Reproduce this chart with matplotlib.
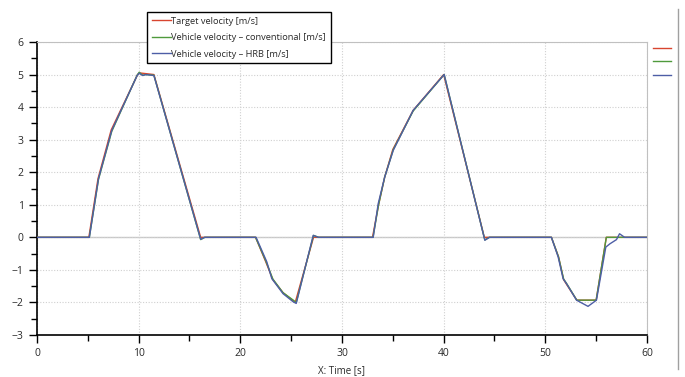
import numpy as np
import matplotlib
matplotlib.use("Agg")
import matplotlib.pyplot as plt
from matplotlib.lines import Line2D
from matplotlib.ticker import MultipleLocator

plt.rcParams['font.family'] = ['Open Sans', 'DejaVu Sans']

# target velocity profile
t_tgt = [0, 5.1, 6.0, 7.3, 9.9, 10.1, 11.5, 16.1, 21.5, 22.5, 23.2, 24.2, 25.4,
         27.2, 33.0, 33.6, 34.2, 35.0, 37.0, 40.0, 44.0, 50.6, 51.3, 51.8, 52.1,
         53.1, 55.0, 56.0, 60]
v_tgt = [0, 0, 1.8, 3.3, 5.0, 5.05, 5.0, 0, 0, -0.75, -1.3, -1.7, -2.0,
         0, 0, 1.0, 1.85, 2.7, 3.9, 5.0, 0, 0, -0.6, -1.3, -1.45,
         -1.93, -1.93, 0, 0]

# vehicle velocity - conventional
t_conv = [0, 5.15, 6.05, 7.35, 9.85, 10.05, 10.4, 10.7, 11.5, 16.1, 16.5, 21.5,
          22.5, 23.2, 24.2, 25.3, 25.5, 27.2, 27.7, 33.05, 33.6, 34.2, 35.05,
          37.0, 40.05, 44.05, 44.5, 50.6, 51.3, 51.8, 52.1, 53.1, 55.0, 56.0, 60]
v_conv = [0, 0, 1.78, 3.25, 4.98, 5.07, 4.98, 5.0, 4.98, -0.07, 0, 0,
          -0.72, -1.28, -1.7, -1.95, -2.0, 0.06, 0, 0, 1.0, 1.85, 2.7,
          3.88, 5.0, -0.08, 0, 0, -0.6, -1.28, -1.42, -1.93, -1.93, 0, 0]

# vehicle velocity - HRB
t_hrb = [0, 5.15, 6.05, 7.35, 9.85, 10.05, 10.4, 10.7, 11.5, 16.1, 16.5, 21.55,
         22.6, 23.1, 24.2, 25.2, 25.5, 27.17, 27.7, 33.07, 33.56, 34.2, 35.04,
         37.0, 40.05, 44.05, 44.5, 50.6, 51.26, 51.75, 52.08, 53.07, 54.2, 55.03,
         55.95, 56.35, 57.0, 57.3, 57.8, 60]
v_hrb = [0, 0, 1.8, 3.28, 4.97, 5.04, 4.97, 5.0, 4.97, -0.06, 0, 0,
         -0.75, -1.27, -1.73, -1.98, -2.03, 0.06, 0, 0, 1.03, 1.85, 2.67,
         3.9, 5.0, -0.09, 0, 0, -0.6, -1.27, -1.42, -1.93, -2.12, -1.93,
         -0.3, -0.2, -0.07, 0.11, 0, 0]

labels = ["Target velocity [m/s]",
          "Vehicle velocity \u2013 conventional [m/s]",
          "Vehicle velocity \u2013 HRB [m/s]"]
colors = ["#d8452f", "#4f9a3c", "#4d5ea6"]

fig = plt.figure(figsize=(6.85, 3.77), dpi=100)
ax = fig.add_axes([0.054, 0.1114, 0.8905, 0.7772])

ax.axhline(0, color="#c8c8c8", lw=1, zorder=1)
l1, = ax.plot(t_tgt, v_tgt, color=colors[0], lw=1, zorder=3)
l2, = ax.plot(t_conv, v_conv, color=colors[1], lw=1, zorder=4)
l3, = ax.plot(t_hrb, v_hrb, color=colors[2], lw=1, zorder=5)

ax.set_xlim(0, 60)
ax.set_ylim(-3, 6)
ax.xaxis.set_major_locator(MultipleLocator(10))
ax.xaxis.set_minor_locator(MultipleLocator(5))
ax.yaxis.set_major_locator(MultipleLocator(1))
ax.yaxis.set_minor_locator(MultipleLocator(0.5))
ax.grid(True, which='major', color="#d0d0d0", linestyle=(0, (1, 1.5)), lw=0.8)
ax.tick_params(which='major', length=6, width=1, labelsize=7.5, color='black', labelcolor='#2a2a2a')
ax.tick_params(which='minor', length=4, width=1, color='black')
for s in ['top', 'right']:
    ax.spines[s].set_color('#c0c0c0')
for s in ['left', 'bottom']:
    ax.spines[s].set_color('black')
    ax.spines[s].set_linewidth(1.2)
ax.set_xlabel("X: Time [s]", fontsize=7, color='#2a2a2a', labelpad=4)

leg = fig.legend([l1, l2, l3], labels, loc='upper left', bbox_to_anchor=(0.215, 0.968),
                 fontsize=6.7, handlelength=2.0, handletextpad=0.1, borderpad=0.5,
                 labelspacing=0.8, fancybox=False, framealpha=1, borderaxespad=0)
leg.get_frame().set_edgecolor('black')
leg.get_frame().set_linewidth(1)
for txt in leg.get_texts():
    txt.set_color('#2a2a2a')

# small unlabeled legend at the right edge
leg2 = fig.legend([l1, l2, l3], ["", "", ""], loc='upper left', bbox_to_anchor=(0.953, 0.885),
                  frameon=False, handlelength=1.9, handletextpad=0, labelspacing=0.25,
                  fontsize=7, borderpad=0, borderaxespad=0)

fig.add_artist(Line2D([0.99, 0.99], [0.022, 0.975], transform=fig.transFigure,
                      color='#a0a0a0', lw=1))

fig.savefig("out.png", dpi=100)
